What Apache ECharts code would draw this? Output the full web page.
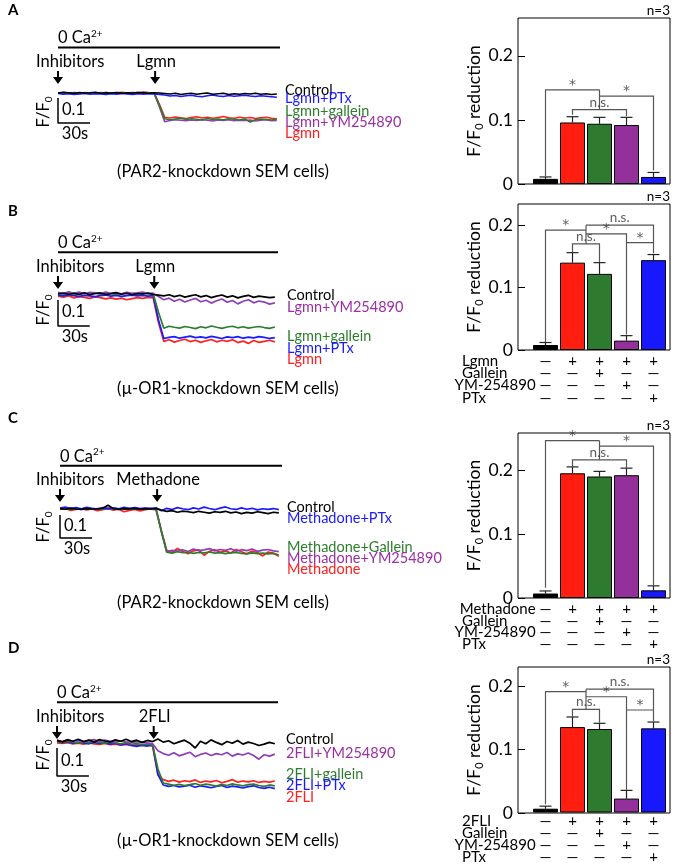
<!DOCTYPE html>
<html>
<head>
<meta charset="utf-8">
<script src="https://cdn.jsdelivr.net/npm/echarts@6/dist/echarts.min.js"></script>
<style>
  html, body { margin: 0; padding: 0; background: #fff; }
  #chart { width: 675px; height: 865px; }
</style>
</head>
<body>
<div id="chart"></div>
<script>
// ---- trace data (F/F0), sampled every 5 s ----
const traceTimes = [0,5,10,15,20,25,30,35,40,45,50,55,60,65,70,75,80,85,90,95,100,105,110,115,120,125,130,135,140,145,150,155,160,165,170,175,180,185,190,195,200,205];
const stimTime = 91;

const namesA = ['Control', 'Lgmn+PTx', 'Lgmn+gallein', 'Lgmn+YM254890', 'Lgmn'];
const aControl = [1.000,1.003,1.001,0.999,1.002,1.000,1.001,1.003,0.999,1.001,1.000,1.002,0.999,1.001,1.000,1.002,1.001,0.999,1.001,1.000,0.998,0.996,0.999,0.994,0.997,0.999,0.995,0.998,1.000,0.995,0.997,0.999,0.994,0.997,0.995,0.998,0.996,0.999,0.995,0.997,0.994,0.996];
const aPTx = [0.998,0.995,0.997,0.994,0.996,0.998,0.995,0.997,0.996,0.994,0.997,0.995,0.998,0.996,0.994,0.997,0.995,0.997,0.996,0.994,0.992,0.988,0.990,0.986,0.989,0.991,0.987,0.985,0.989,0.992,0.988,0.986,0.990,0.987,0.989,0.991,0.988,0.986,0.989,0.987,0.985,0.983];
const aGallein = [1.001,1.000,0.998,1.002,1.000,0.999,1.001,0.998,1.000,1.002,0.999,1.001,1.000,0.998,1.001,0.999,1.002,1.000,1.001,0.950,0.897,0.893,0.896,0.899,0.894,0.897,0.895,0.892,0.898,0.894,0.896,0.893,0.897,0.895,0.892,0.896,0.884,0.893,0.896,0.894,0.892,0.895];
const aYM = [1.000,0.999,1.001,1.000,0.998,1.001,0.999,1.000,1.002,0.999,1.000,0.998,1.001,0.999,1.000,1.002,0.999,1.000,0.999,0.945,0.885,0.890,0.893,0.891,0.889,0.892,0.890,0.893,0.891,0.888,0.892,0.890,0.893,0.889,0.891,0.890,0.892,0.888,0.891,0.893,0.889,0.890];
const aLgmn = [1.000,1.002,1.000,1.001,0.999,1.002,1.000,1.001,0.999,1.002,1.000,1.001,1.003,1.000,1.002,1.001,1.004,1.002,1.001,0.955,0.903,0.900,0.904,0.901,0.898,0.902,0.905,0.900,0.903,0.899,0.902,0.906,0.901,0.899,0.903,0.900,0.902,0.898,0.901,0.903,0.899,0.897];

const namesB = ['Control', 'Lgmn+YM254890', 'Lgmn+gallein', 'Lgmn+PTx', 'Lgmn'];
const bControl = [1.000,1.004,0.998,1.003,0.999,1.005,0.997,1.002,1.004,0.998,1.001,1.005,0.999,1.003,0.997,1.002,1.000,1.004,0.998,0.996,0.993,0.997,0.990,0.995,0.988,0.993,0.997,0.989,0.994,0.986,0.992,0.996,0.988,0.993,0.985,0.991,0.995,0.987,0.992,0.989,0.986,0.988];
const bYM = [1.006,1.002,1.008,1.003,1.007,1.001,1.006,1.004,1.002,1.007,1.003,1.005,1.001,1.006,1.003,1.004,1.007,1.002,1.003,0.990,0.978,0.984,0.972,0.980,0.969,0.977,0.983,0.970,0.976,0.965,0.974,0.981,0.968,0.975,0.962,0.972,0.978,0.966,0.973,0.969,0.961,0.966];
const bGallein = [1.002,0.999,1.003,1.000,0.998,1.002,1.000,1.003,0.999,1.001,1.002,0.998,1.001,1.003,1.000,0.999,1.002,1.000,1.001,0.930,0.868,0.876,0.872,0.869,0.875,0.871,0.867,0.874,0.870,0.877,0.872,0.868,0.873,0.876,0.870,0.874,0.869,0.872,0.875,0.871,0.868,0.873];
const bPTx = [0.996,0.993,0.997,0.994,0.991,0.995,0.993,0.990,0.994,0.996,0.992,0.995,0.991,0.994,0.996,0.993,0.995,0.992,0.994,0.900,0.829,0.833,0.836,0.830,0.834,0.838,0.832,0.835,0.831,0.837,0.833,0.829,0.835,0.832,0.836,0.830,0.834,0.831,0.836,0.833,0.829,0.832];
const bLgmn = [0.992,0.988,0.993,0.985,0.990,0.987,0.983,0.989,0.986,0.981,0.985,0.980,0.984,0.978,0.982,0.986,0.983,0.987,0.985,0.890,0.818,0.824,0.815,0.821,0.826,0.817,0.822,0.814,0.820,0.825,0.816,0.822,0.818,0.824,0.813,0.819,0.810,0.821,0.814,0.818,0.822,0.816];

const namesC = ['Control', 'Methadone+PTx', 'Methadone+Gallein', 'Methadone+YM254890', 'Methadone'];
const cControl = [1.002,0.999,1.003,1.000,0.998,1.002,1.000,1.001,1.003,1.016,1.001,0.999,1.002,1.000,1.003,0.999,1.001,1.000,1.002,0.995,0.990,0.993,0.986,0.991,0.988,0.984,0.990,0.986,0.982,0.988,0.985,0.990,0.983,0.987,0.980,0.985,0.982,0.988,0.984,0.980,0.986,0.983];
const cPTx = [1.004,1.008,1.002,1.006,1.001,1.007,1.003,1.000,1.006,1.002,1.005,1.001,1.007,1.003,1.006,1.002,1.004,1.003,1.005,0.992,1.003,0.998,1.006,1.001,0.997,1.005,1.000,1.008,1.002,0.997,1.004,1.009,1.001,0.998,1.005,0.999,1.003,0.996,1.001,0.998,1.002,0.997];
const cGallein = [1.001,1.003,0.999,1.002,1.000,1.003,1.001,0.999,1.002,1.000,1.003,1.001,0.999,1.002,1.000,1.001,1.003,1.000,1.001,0.900,0.812,0.808,0.814,0.810,0.812,0.807,0.811,0.809,0.813,0.808,0.810,0.806,0.809,0.811,0.807,0.805,0.809,0.806,0.808,0.805,0.807,0.800];
const cYM = [1.003,0.999,1.005,1.001,0.998,1.004,1.000,1.002,0.999,1.004,1.001,0.998,1.003,1.000,1.004,1.001,0.999,1.002,1.000,0.905,0.815,0.820,0.817,0.823,0.815,0.826,0.819,0.822,0.828,0.818,0.824,0.820,0.827,0.817,0.823,0.819,0.826,0.816,0.821,0.824,0.818,0.815];
const cMethadone = [0.999,1.002,0.994,0.998,1.001,0.996,1.000,0.993,0.997,1.001,0.995,0.999,0.988,0.994,0.998,0.992,0.997,1.000,0.996,0.905,0.820,0.811,0.828,0.815,0.806,0.818,0.822,0.799,0.816,0.823,0.812,0.818,0.809,0.824,0.814,0.805,0.817,0.811,0.796,0.813,0.808,0.794];

const namesD = ['Control', '2FLI+YM254890', '2FLI+gallein', '2FLI+PTx', '2FLI'];
const dControl = [1.002,0.997,1.004,0.999,1.006,0.998,1.003,0.996,1.005,1.000,0.997,1.004,0.999,1.006,0.998,1.003,0.995,1.002,0.998,1.007,0.996,1.001,0.990,0.997,1.003,0.992,0.975,0.999,0.990,1.004,0.995,0.987,0.998,0.992,1.002,0.989,0.996,0.991,0.984,0.989,0.995,0.990];
const dYM = [1.003,0.998,1.005,0.999,1.004,0.997,1.002,1.005,0.998,1.003,0.999,0.996,1.001,0.997,0.994,0.998,0.995,0.993,0.990,0.965,0.955,0.949,0.958,0.947,0.953,0.960,0.944,0.952,0.957,0.948,0.955,0.951,0.959,0.946,0.954,0.950,0.957,0.948,0.935,0.951,0.946,0.953];
const dGallein = [0.998,0.995,0.999,0.996,0.993,0.997,0.994,0.998,0.995,0.992,0.996,0.993,0.990,0.994,0.988,0.991,0.987,0.989,0.986,0.900,0.850,0.846,0.842,0.845,0.841,0.844,0.848,0.842,0.846,0.843,0.839,0.845,0.841,0.847,0.843,0.840,0.844,0.846,0.841,0.838,0.843,0.840];
const dPTx = [1.000,0.994,0.997,0.992,0.996,0.993,0.990,0.995,0.991,0.994,0.989,0.992,0.986,0.990,0.984,0.981,0.985,0.982,0.986,0.880,0.843,0.838,0.841,0.836,0.839,0.842,0.835,0.840,0.837,0.833,0.838,0.841,0.834,0.839,0.836,0.832,0.837,0.840,0.834,0.831,0.835,0.830];
const d2FLI = [0.993,0.991,0.994,0.990,0.992,0.989,0.993,0.990,0.988,0.991,0.987,0.989,0.985,0.988,0.984,0.986,0.983,0.985,0.982,0.880,0.862,0.856,0.860,0.853,0.858,0.855,0.861,0.852,0.857,0.854,0.859,0.851,0.856,0.862,0.853,0.857,0.854,0.858,0.852,0.856,0.853,0.857];

// ---- bar data (F/F0 reduction, mean and SEM) ----
const barCategories = ['Control', 'Agonist', 'Agonist+Gallein', 'Agonist+YM-254890', 'Agonist+PTx'];
const barsA = [0.008, 0.096, 0.094, 0.092, 0.011];
const errA = [0.003, 0.009, 0.010, 0.012, 0.007];
const barsB = [0.008, 0.140, 0.122, 0.015, 0.144];
const errB = [0.004, 0.016, 0.018, 0.008, 0.009];
const barsC = [0.007, 0.195, 0.190, 0.192, 0.012];
const errC = [0.004, 0.010, 0.008, 0.011, 0.007];
const barsD = [0.006, 0.135, 0.132, 0.022, 0.133];
const errD = [0.004, 0.016, 0.009, 0.013, 0.010];

// significance brackets: polylines in (bar index, value)
const bracketsA = [
  [[0, 0.012], [0, 0.147], [2, 0.147]],
  [[2, 0.137], [4, 0.137], [4, 0.021]],
  [[2, 0.147], [2, 0.116]],
  [[1, 0.108], [1, 0.116], [3, 0.116], [3, 0.106]]
];
const marksA = [['*', 1, 0.147], ['*', 3, 0.137], ['n.s.', 2, 0.116]];
const bracketsB = [
  [[1, 0.157], [1, 0.170], [2, 0.170], [2, 0.141]],
  [[1.5, 0.170], [1.5, 0.200]],
  [[0, 0.013], [0, 0.192], [1.5, 0.192]],
  [[1.5, 0.186], [3, 0.186], [3, 0.025]],
  [[1.5, 0.200], [4, 0.200], [4, 0.155]],
  [[3, 0.172], [4, 0.172]]
];
const marksB = [['*', 0.75, 0.192], ['n.s.', 1.5, 0.170], ['*', 2.25, 0.186], ['n.s.', 2.75, 0.200], ['*', 3.5, 0.172]];
const bracketsC = [
  [[0, 0.016], [0, 0.246], [2, 0.246]],
  [[2, 0.2375], [4, 0.2375], [4, 0.018]],
  [[2, 0.246], [2, 0.216]],
  [[1, 0.205], [1, 0.216], [3, 0.216], [3, 0.203]]
];
const marksC = [['*', 1, 0.246], ['*', 3, 0.2375], ['n.s.', 2, 0.216]];
const bracketsD = [
  [[1, 0.151], [1, 0.163], [2, 0.163], [2, 0.142]],
  [[1.5, 0.163], [1.5, 0.195]],
  [[0, 0.013], [0, 0.191], [1.5, 0.191]],
  [[1.5, 0.183], [3, 0.183], [3, 0.036]],
  [[1.5, 0.195], [4, 0.195], [4, 0.144]],
  [[3, 0.162], [4, 0.162]]
];
const marksD = [['*', 0.75, 0.191], ['n.s.', 1.5, 0.163], ['*', 2.25, 0.183], ['n.s.', 2.75, 0.195], ['*', 3.5, 0.162]];

// treatment table under the bars
const rowLabelsB = ['Lgmn', 'Gallein', 'YM-254890', 'PTx'];
const rowLabelsC = ['Methadone', 'Gallein', 'YM-254890', 'PTx'];
const rowLabelsD = ['2FLI', 'Gallein', 'YM-254890', 'PTx'];
const treatmentSigns = [
  ['—', '+', '+', '+', '+'],
  ['—', '—', '+', '—', '—'],
  ['—', '—', '—', '+', '—'],
  ['—', '—', '—', '—', '+']
];

// ---- styling / layout ----
const FONT = 'Lato';
const T_MAX = 208;
const barColors = ['#000000', '#ff1e10', '#2e7a2e', '#93309b', '#1818ff'];
function traceColor(name) {
  if (name === 'Control') return '#000000';
  if (name.indexOf('PTx') >= 0) return '#1a1aff';
  if (name.toLowerCase().indexOf('gallein') >= 0) return '#2e7d2e';
  if (name.indexOf('YM') >= 0) return '#8e3fb8';
  return '#ff2020';
}
function labelColor(name) {
  return name.indexOf('YM') >= 0 ? '#9b2fa5' : traceColor(name);
}

const tracePanels = [
  { letter: 'A', letterY: 10, left: 58, right: 280, baseY: 93, k: 250, caY: 47.5, inhibY: 62, stim: 'Lgmn',
    sub: '(PAR2-knockdown SEM cells)', subY: 172, fY: 112, scaleTop: 0.98, labelX: 285,
    names: namesA, data: [aControl, aPTx, aGallein, aYM, aLgmn], labelYs: [90, 98, 111, 122, 133] },
  { letter: 'B', letterY: 211, left: 58, right: 278, baseY: 294, k: 260, caY: 252.3, inhibY: 267, stim: 'Lgmn',
    sub: '(\u00b5-OR1-knockdown SEM cells)', subY: 389, fY: 310, scaleTop: 0.977, labelX: 287,
    names: namesB, data: [bControl, bYM, bGallein, bPTx, bLgmn], labelYs: [295, 307, 336, 348, 359] },
  { letter: 'C', letterY: 418, left: 60, right: 282, baseY: 509, k: 230, caY: 465.7, inhibY: 480, stim: 'Methadone',
    sub: '(PAR2-knockdown SEM cells)', subY: 603, fY: 527, scaleTop: 0.974, labelX: 287,
    names: namesC, data: [cControl, cPTx, cGallein, cYM, cMethadone], labelYs: [507, 518, 547, 558, 569] },
  { letter: 'D', letterY: 648, left: 57, right: 278, baseY: 741, k: 280, caY: 702.3, inhibY: 717, stim: '2FLI',
    sub: '(\u00b5-OR1-knockdown SEM cells)', subY: 841, fY: 755, scaleTop: 0.975, labelX: 286,
    names: namesD, data: [dControl, dYM, dGallein, dPTx, d2FLI], labelYs: [739, 753, 774, 785, 797] }
];

const FRAME_L = 518, FRAME_W = 152, BAR_L = 532, BAR_W = 135, ROW_LABEL_X = 462;
const barPanels = [
  { top: 18, height: 166, yMax: 0.259, values: barsA, errs: errA, brackets: bracketsA, marks: marksA, rows: null },
  { top: 204, height: 146, yMax: 0.234, values: barsB, errs: errB, brackets: bracketsB, marks: marksB, rows: rowLabelsB, rowOffsets: [11, 23, 35, 48] },
  { top: 433, height: 165, yMax: 0.258, values: barsC, errs: errC, brackets: bracketsC, marks: marksC, rows: rowLabelsC, rowOffsets: [11, 23, 34, 46] },
  { top: 667, height: 146, yMax: 0.230, values: barsD, errs: errD, brackets: bracketsD, marks: marksD, rows: rowLabelsD, rowOffsets: [9, 21, 33, 45] }
];

const grid = [], xAxis = [], yAxis = [], series = [], graphic = [];
const push = (arr, item) => { arr.push(item); return arr.length - 1; };

function text(x, y, str, opt) {
  opt = opt || {};
  const align = opt.align || 'left', va = opt.va || 'middle';
  graphic.push({
    type: 'text', x: x, y: y, rotation: opt.rotation || 0, silent: true,
    style: {
      text: str, fill: opt.color || '#000', fontSize: opt.size || 16, fontFamily: FONT,
      fontWeight: opt.weight || 'normal', align: align, textAlign: align,
      verticalAlign: va, textVerticalAlign: va, rich: opt.rich
    }
  });
}

const YMIN = 0.76, YMAX = 1.04;
tracePanels.forEach(p => {
  const w = p.right - p.left;
  const gi = push(grid, { left: p.left, top: p.baseY - (YMAX - 1) * p.k, width: w, height: (YMAX - YMIN) * p.k });
  const xi = push(xAxis, { gridIndex: gi, type: 'value', min: 0, max: T_MAX, show: false });
  const yi = push(yAxis, { gridIndex: gi, type: 'value', min: YMIN, max: YMAX, show: false });
  // draw stimulated traces first, control last
  for (let s = p.names.length - 1; s >= 0; s--) {
    series.push({
      type: 'line', name: p.names[s], xAxisIndex: xi, yAxisIndex: yi, symbol: 'none', silent: true,
      data: traceTimes.map((t, i) => [t, p.data[s][i]]),
      lineStyle: { color: traceColor(p.names[s]), width: 1.7 }
    });
  }
  // scale bar 0.1 F/F0 x 30 s
  series.push({
    type: 'line', xAxisIndex: xi, yAxisIndex: yi, symbol: 'none', silent: true, clip: false,
    data: [[0, p.scaleTop], [0, p.scaleTop - 0.1], [30, p.scaleTop - 0.1]],
    lineStyle: { color: '#000', width: 1.5 }
  });
  const sbTop = p.baseY + (1 - p.scaleTop) * p.k, sbBot = sbTop + 0.1 * p.k;
  text(p.left + 4, (sbTop + sbBot) / 2 - 1, '0.1', { size: 16.5 });
  text(p.left + 30 / T_MAX * w / 2 + 1, sbBot + 2, '30s', { size: 16.5, align: 'center', va: 'top' });
  text(44, p.fY, '{a|F/F}{s|0}', { rotation: Math.PI / 2, align: 'center', rich: {
    a: { fontSize: 16.5, fontFamily: FONT, lineHeight: 20, verticalAlign: 'middle' },
    s: { fontSize: 10, fontFamily: FONT, lineHeight: 10, verticalAlign: 'bottom' } } });

  // panel letter, 0 Ca2+ bar, arrows
  text(8, p.letterY, p.letter, { size: 15, weight: 'bold' });
  graphic.push({ type: 'line', silent: true, shape: { x1: p.left, y1: p.caY, x2: p.right, y2: p.caY }, style: { stroke: '#000', lineWidth: 2 } });
  text(p.left, p.caY - 1, '{a|0 Ca}{p|2+}', { va: 'bottom', rich: {
    a: { fontSize: 16.5, fontFamily: FONT, lineHeight: 18, verticalAlign: 'bottom' },
    p: { fontSize: 10, fontFamily: FONT, lineHeight: 18, verticalAlign: 'top' } } });
  text(36, p.inhibY, 'Inhibitors', { size: 16.5 });
  const sx = p.left + stimTime / T_MAX * w;
  text(sx + 1, p.inhibY, p.stim, { size: 16.5, align: 'center' });
  [p.left, sx].forEach(ax => {
    graphic.push({ type: 'line', silent: true, shape: { x1: ax, y1: p.inhibY + 9, x2: ax, y2: p.inhibY + 17 }, style: { stroke: '#000', lineWidth: 2 } });
    graphic.push({ type: 'polygon', silent: true, shape: { points: [[ax - 5, p.inhibY + 15], [ax + 5, p.inhibY + 15], [ax, p.inhibY + 22]] }, style: { fill: '#000' } });
  });
  p.names.forEach((n, s) => text(p.labelX, p.labelYs[s], n, { size: 14.5, color: labelColor(n) }));
  text(117, p.subY, p.sub, { size: 16.5 });
});

barPanels.forEach(p => {
  // frame + y axis
  const fg = push(grid, { left: FRAME_L, width: FRAME_W, top: p.top, height: p.height, show: true, borderColor: '#000', borderWidth: 1 });
  push(xAxis, { gridIndex: fg, type: 'value', min: 0, max: 1, show: false });
  push(yAxis, {
    gridIndex: fg, type: 'value', min: 0, max: p.yMax, interval: 0.1,
    axisLine: { show: false }, splitLine: { show: false },
    axisTick: { inside: true, length: 7, lineStyle: { color: '#000', width: 1 } },
    axisLabel: { showMaxLabel: false, fontSize: 17.5, fontFamily: FONT, color: '#000', margin: 5 },
    name: '{a|F/F}{s|0}{a| reduction}', nameLocation: 'middle', nameGap: 28,
    nameTextStyle: { color: '#000', rich: {
      a: { fontSize: 17.5, fontFamily: FONT, color: '#000', lineHeight: 20, verticalAlign: 'middle' },
      s: { fontSize: 11, fontFamily: FONT, color: '#000', lineHeight: 11, verticalAlign: 'bottom' } } }
  });
  text(FRAME_L + FRAME_W, p.top - 7, 'n=3', { size: 13.5, align: 'right' });

  // bars grid
  const bg = push(grid, { left: BAR_L, width: BAR_W, top: p.top, height: p.height });
  const cx = push(xAxis, { gridIndex: bg, type: 'category', data: barCategories, position: 'bottom', show: false });
  const vx = push(xAxis, { gridIndex: bg, type: 'value', min: -0.5, max: 4.5, position: 'top', show: false });
  const by = push(yAxis, { gridIndex: bg, type: 'value', min: 0, max: p.yMax, show: false });

  series.push({
    type: 'custom', xAxisIndex: vx, yAxisIndex: by, z: 2, silent: true,
    data: p.values.map((v, i) => [i, v, v + p.errs[i]]),
    renderItem: (params, api) => {
      const base = api.coord([api.value(0), api.value(1)]);
      const top = api.coord([api.value(0), api.value(2)]);
      return { type: 'group', children: [
        { type: 'line', shape: { x1: base[0], y1: base[1], x2: top[0], y2: top[1] }, style: { stroke: '#222', lineWidth: 1.2 } },
        { type: 'line', shape: { x1: top[0] - 6, y1: top[1], x2: top[0] + 6, y2: top[1] }, style: { stroke: '#222', lineWidth: 1.2 } }
      ] };
    }
  });
  series.push({
    type: 'bar', xAxisIndex: cx, yAxisIndex: by, barWidth: 25, z: 3, silent: true,
    data: p.values.map((v, i) => ({ value: v, itemStyle: { color: barColors[i] } })),
    itemStyle: { borderColor: '#000', borderWidth: 1 }
  });
  series.push({
    type: 'lines', coordinateSystem: 'cartesian2d', xAxisIndex: vx, yAxisIndex: by, polyline: true, z: 4, silent: true,
    data: p.brackets.map(c => ({ coords: c })),
    lineStyle: { color: '#555', width: 1.2, opacity: 1 }
  });
  series.push({
    type: 'scatter', xAxisIndex: vx, yAxisIndex: by, symbolSize: 1, z: 5, silent: true,
    itemStyle: { color: 'rgba(0,0,0,0)' },
    data: p.marks.map(m => ({
      name: m[0], value: [m[1], m[2]],
      label: m[0] === '*'
        ? { fontSize: 14, fontFamily: 'DejaVu Sans', distance: -3, color: '#333' }
        : { fontSize: 13.5, fontFamily: FONT, distance: 0, color: '#333' }
    })),
    label: { show: true, position: 'top', formatter: '{b}' }
  });

  if (p.rows) {
    p.rows.forEach((lab, r) => push(xAxis, {
      gridIndex: bg, type: 'category', data: treatmentSigns[r], position: 'bottom', offset: p.rowOffsets[r],
      axisLine: { show: false }, axisTick: { show: false },
      axisLabel: { interval: 0, margin: 0, verticalAlign: 'middle', fontSize: 15, fontFamily: FONT, color: '#000' },
      name: lab, nameLocation: 'start', nameGap: BAR_L - ROW_LABEL_X,
      nameTextStyle: { align: 'left', verticalAlign: 'middle', fontSize: 15, fontFamily: FONT, color: '#000' }
    }));
  }
});

const chart = echarts.init(document.getElementById('chart'));
chart.setOption({
  animation: false,
  backgroundColor: '#fff',
  grid: grid, xAxis: xAxis, yAxis: yAxis, series: series,
  graphic: { elements: graphic }
});
</script>
</body>
</html>
